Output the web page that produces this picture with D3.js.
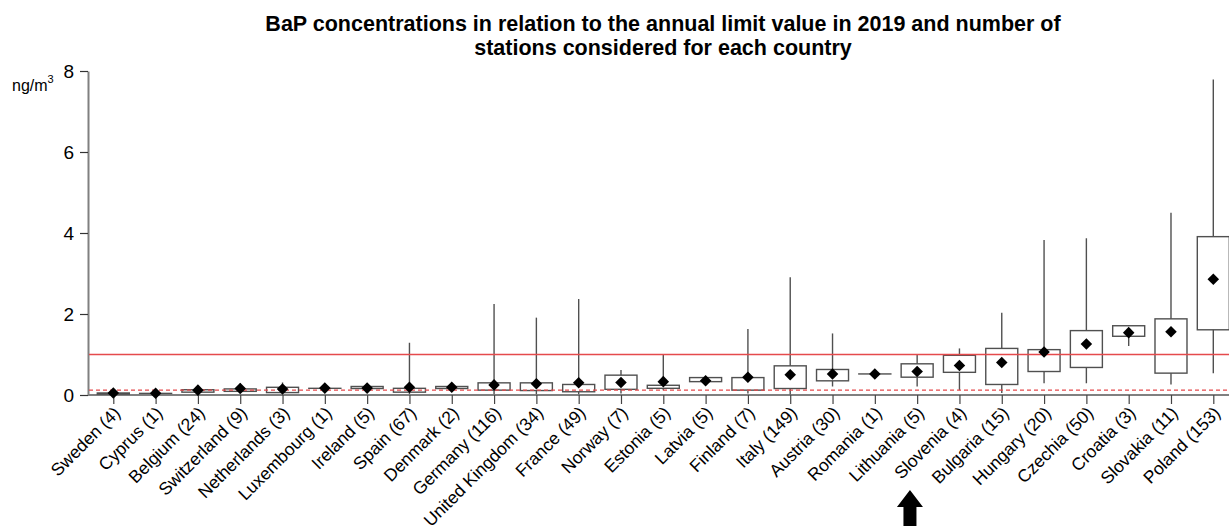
<!DOCTYPE html>
<html><head><meta charset="utf-8">
<script src="https://cdn.jsdelivr.net/npm/d3@7"></script>
<style>
html,body{margin:0;padding:0;background:#fff;}
svg{display:block;font-family:"Liberation Sans",Arial,sans-serif;}
</style></head>
<body>
<svg id="chart" width="1229" height="526"></svg>
<script>
// ---- data ----
const countries = ["Sweden (4)","Cyprus (1)","Belgium (24)","Switzerland (9)","Netherlands (3)","Luxembourg (1)","Ireland (5)","Spain (67)","Denmark (2)","Germany (116)","United Kingdom (34)","France (49)","Norway (7)","Estonia (5)","Latvia (5)","Finland (7)","Italy (149)","Austria (30)","Romania (1)","Lithuania (5)","Slovenia (4)","Bulgaria (15)","Hungary (20)","Czechia (50)","Croatia (3)","Slovakia (11)","Poland (153)"];
const minVals  = [0.01,0.04,0.03,0.05,0.05,0.165,0.13,0.02,0.16,0.02,0.02,0.02,0.04,0.12,0.25,0.04,0.01,0.21,0.52,0.21,0.12,0.05,0.29,0.29,1.21,0.26,0.54];
const q1Vals   = [0.02,0.04,0.07,0.09,0.06,0.165,0.16,0.07,0.16,0.12,0.11,0.08,0.14,0.165,0.33,0.12,0.16,0.35,0.52,0.44,0.56,0.26,0.58,0.68,1.45,0.54,1.61];
const midVals  = [0.05,0.045,0.12,0.16,0.15,0.17,0.17,0.19,0.19,0.25,0.28,0.30,0.31,0.33,0.35,0.44,0.50,0.52,0.52,0.58,0.73,0.80,1.06,1.26,1.54,1.56,2.86];
const q3Vals   = [0.05,0.04,0.13,0.15,0.19,0.165,0.21,0.165,0.21,0.30,0.30,0.26,0.49,0.24,0.43,0.43,0.72,0.63,0.52,0.77,0.98,1.15,1.12,1.59,1.71,1.88,3.91];
const maxVals  = [0.06,0.04,0.24,0.29,0.31,0.165,0.21,1.29,0.21,2.25,1.91,2.37,0.62,0.99,0.45,1.63,2.91,1.52,0.52,0.99,1.15,2.03,3.83,3.87,1.72,4.50,7.79];
const yTicks = [0,2,4,6,8];
const limitValue = 1;      // EU annual target value
const referenceLevel = 0.12; // WHO reference level
const titleLines = ["BaP concentrations in relation to the annual limit value in 2019 and number of","stations considered for each country"];
const highlighted = "Slovenia (4)";

// ---- chart ----
const svg = d3.select("#chart");
const W = 1229, H = 526;
const x = d3.scalePoint().domain(countries).range([113.3, 1213.3]);
const y = d3.scaleLinear().domain([0, 8]).range([395, 71]);
const axisLeftX = 88, boxW = 32;
const boxColor = "#505050", axisColor = "#808080", red = "#e54a4c";

// title
svg.append("g").selectAll("text").data(titleLines).join("text")
  .attr("x", 663).attr("y", (d,i) => 31 + i*24)
  .attr("text-anchor", "middle").attr("font-weight", "bold")
  .attr("font-size", 21.5).attr("fill", "#000").text(d => d);

// y axis
const yAxis = d3.axisLeft(y).tickValues(yTicks).tickSize(8).tickSizeOuter(0).tickPadding(6);
const gy = svg.append("g").attr("transform", `translate(${axisLeftX},0)`).call(yAxis);
gy.select(".domain").attr("stroke", axisColor).attr("stroke-width", 2);
gy.selectAll(".tick line").attr("stroke", "#333").attr("stroke-width", 1.2);
gy.selectAll(".tick text").attr("font-size", 19).attr("fill", "#000")
  .attr("font-family", "Liberation Sans, Arial, sans-serif");

// unit label
const unit = svg.append("text").attr("x", 12).attr("y", 91).attr("font-size", 16).attr("fill", "#000");
unit.append("tspan").text("ng/m");
unit.append("tspan").attr("font-size", 11).attr("dy", -8).text("3");

// x axis baseline and ticks
svg.append("line").attr("x1", axisLeftX).attr("x2", W).attr("y1", y(0)).attr("y2", y(0))
  .attr("stroke", axisColor).attr("stroke-width", 2);
const xAxis = d3.axisBottom(x).tickSize(9).tickSizeOuter(0).tickFormat("");
const gx = svg.append("g").attr("transform", `translate(0,${y(0)})`).call(xAxis);
gx.select(".domain").remove();
gx.selectAll(".tick line").attr("stroke", "#444").attr("stroke-width", 1.2);

// x labels
svg.append("g").selectAll("text").data(countries).join("text")
  .attr("transform", d => `translate(${x(d) + 8},${y(0) + 19}) rotate(-45)`)
  .attr("text-anchor", "end").attr("font-size", 17.5).attr("fill", "#000")
  .text(d => d);

// box plots
const rows = countries.map((c, i) => ({c, lo: minVals[i], q1: q1Vals[i], mid: midVals[i], q3: q3Vals[i], hi: maxVals[i]}));
const gb = svg.append("g");
gb.selectAll("line.whisk").data(rows).join("line").attr("class", "whisk")
  .attr("x1", d => x(d.c)).attr("x2", d => x(d.c))
  .attr("y1", d => y(d.lo)).attr("y2", d => y(d.hi))
  .attr("stroke", boxColor).attr("stroke-width", 1.4);
gb.selectAll("rect").data(rows).join("rect")
  .attr("x", d => x(d.c) - boxW/2).attr("width", boxW)
  .attr("y", d => y(d.q3)).attr("height", d => Math.max(0.01, y(d.q1) - y(d.q3)))
  .attr("fill", "#fff").attr("stroke", boxColor).attr("stroke-width", 1.4);

// reference lines
svg.append("line").attr("x1", axisLeftX + 1).attr("x2", W).attr("y1", y(limitValue)).attr("y2", y(limitValue))
  .attr("stroke", red).attr("stroke-width", 1.3);
svg.append("line").attr("x1", axisLeftX + 1).attr("x2", W).attr("y1", y(referenceLevel)).attr("y2", y(referenceLevel))
  .attr("stroke", red).attr("stroke-width", 1.3).attr("stroke-dasharray", "4,3");

// diamonds
svg.append("g").selectAll("path").data(rows).join("path")
  .attr("transform", d => `translate(${x(d.c)},${y(d.mid)})`)
  .attr("d", d3.symbol(d3.symbolDiamond2, 85)())
  .attr("fill", "#000");

// arrow under highlighted country
const ax = x(highlighted) - 49.5;
const arrow = d3.path();
arrow.moveTo(ax, 490); arrow.lineTo(ax + 13, 507); arrow.lineTo(ax + 6.5, 507);
arrow.lineTo(ax + 6.5, 526); arrow.lineTo(ax - 6.5, 526); arrow.lineTo(ax - 6.5, 507);
arrow.lineTo(ax - 13, 507); arrow.closePath();
svg.append("path").attr("d", arrow.toString()).attr("fill", "#000");
</script>
</body></html>
